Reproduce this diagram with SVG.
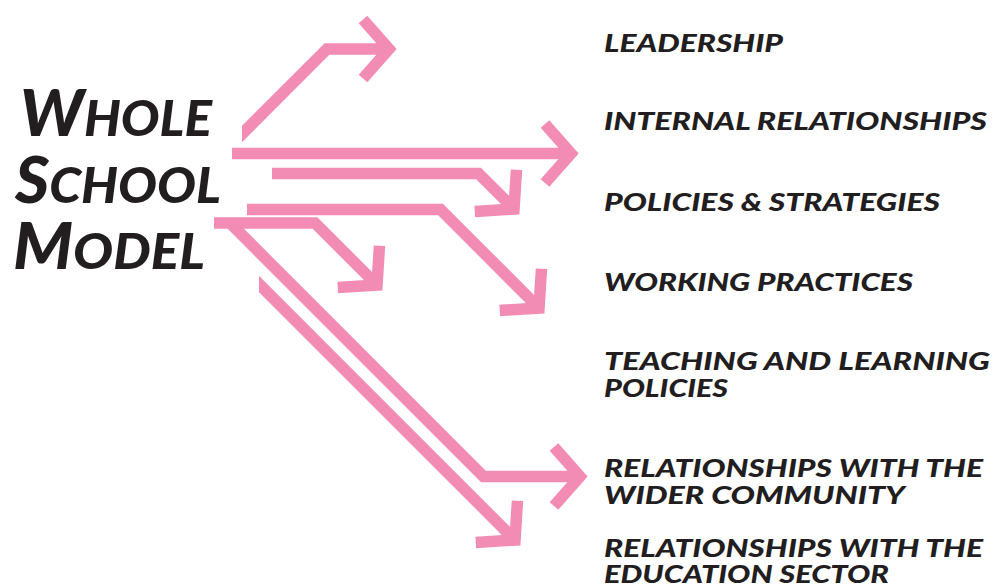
<svg xmlns="http://www.w3.org/2000/svg" width="994" height="586" viewBox="0 0 994 586">
  <style>
    .conn { fill: none; stroke: #F38CB5; stroke-width: 11.5; stroke-linejoin: miter; stroke-linecap: butt; marker-end: url(#chev); }
    .lbl { font-family: Lato, "Open Sans", "Liberation Sans", sans-serif; font-weight: 900; font-style: italic; font-size: 25px; fill: #221E1F; }
    .title { font-family: Lato, "Open Sans", "Liberation Sans", sans-serif; font-weight: 900; font-style: italic; fill: #221E1F; }
  </style>
  <defs>
    <marker id="chev" markerUnits="userSpaceOnUse" orient="auto" viewBox="-45 -45 60 90" markerWidth="60" markerHeight="90" refX="0" refY="0" overflow="visible">
      <path d="M-26,-29.5 L0,0 L-26,29.5" fill="none" stroke="#F38CB5" stroke-width="11.5" stroke-linejoin="miter" stroke-linecap="butt"/>
    </marker>
    <clipPath id="clipLead"><rect x="242" y="0" width="760" height="586"/></clipPath>
    <clipPath id="clipEdu"><rect x="259" y="0" width="740" height="586"/></clipPath>
  </defs>
  <rect width="994" height="586" fill="#ffffff"/>

  <g id="connectors">
    <path class="conn" d="M236,140 L327,49 H389" clip-path="url(#clipLead)"/>
    <path class="conn" d="M232,153.5 H571"/>
    <path class="conn" d="M272,173.5 H478.5 L514,209"/>
    <path class="conn" d="M247,209.5 H440.5 L539,308"/>
    <path class="conn" d="M214,223 H315 L377,285"/>
    <path class="conn" d="M230,223 L483.5,476.5 H580"/>
    <path class="conn" d="M252,277 L515,540" clip-path="url(#clipEdu)"/>
  </g>

  <g id="title">
    <text class="title" x="20" y="136" textLength="192" lengthAdjust="spacingAndGlyphs"><tspan font-size="64">W</tspan><tspan font-size="50">HOLE</tspan></text>
    <text class="title" x="15" y="203" textLength="206" lengthAdjust="spacingAndGlyphs"><tspan font-size="64">S</tspan><tspan font-size="50">CHOOL</tspan></text>
    <text class="title" x="13" y="269" textLength="192" lengthAdjust="spacingAndGlyphs"><tspan font-size="64">M</tspan><tspan font-size="50">ODEL</tspan></text>
  </g>

  <g id="leadership"><text class="lbl" x="604" y="52" textLength="179" lengthAdjust="spacingAndGlyphs">LEADERSHIP</text></g>
  <g id="internal-relationships"><text class="lbl" x="604" y="130" textLength="383" lengthAdjust="spacingAndGlyphs">INTERNAL RELATIONSHIPS</text></g>
  <g id="policies-strategies"><text class="lbl" x="604" y="211" textLength="336" lengthAdjust="spacingAndGlyphs">POLICIES &amp; STRATEGIES</text></g>
  <g id="working-practices"><text class="lbl" x="604" y="291" textLength="309" lengthAdjust="spacingAndGlyphs">WORKING PRACTICES</text></g>
  <g id="teaching-learning">
    <text class="lbl" x="604" y="370" textLength="386" lengthAdjust="spacingAndGlyphs">TEACHING AND LEARNING</text>
    <text class="lbl" x="604" y="397" textLength="124" lengthAdjust="spacingAndGlyphs">POLICIES</text>
  </g>
  <g id="wider-community">
    <text class="lbl" x="604" y="477" textLength="379" lengthAdjust="spacingAndGlyphs">RELATIONSHIPS WITH THE</text>
    <text class="lbl" x="604" y="504" textLength="301" lengthAdjust="spacingAndGlyphs">WIDER COMMUNITY</text>
  </g>
  <g id="education-sector">
    <text class="lbl" x="604" y="557" textLength="379" lengthAdjust="spacingAndGlyphs">RELATIONSHIPS WITH THE</text>
    <text class="lbl" x="604" y="583" textLength="285" lengthAdjust="spacingAndGlyphs">EDUCATION SECTOR</text>
  </g>
</svg>
